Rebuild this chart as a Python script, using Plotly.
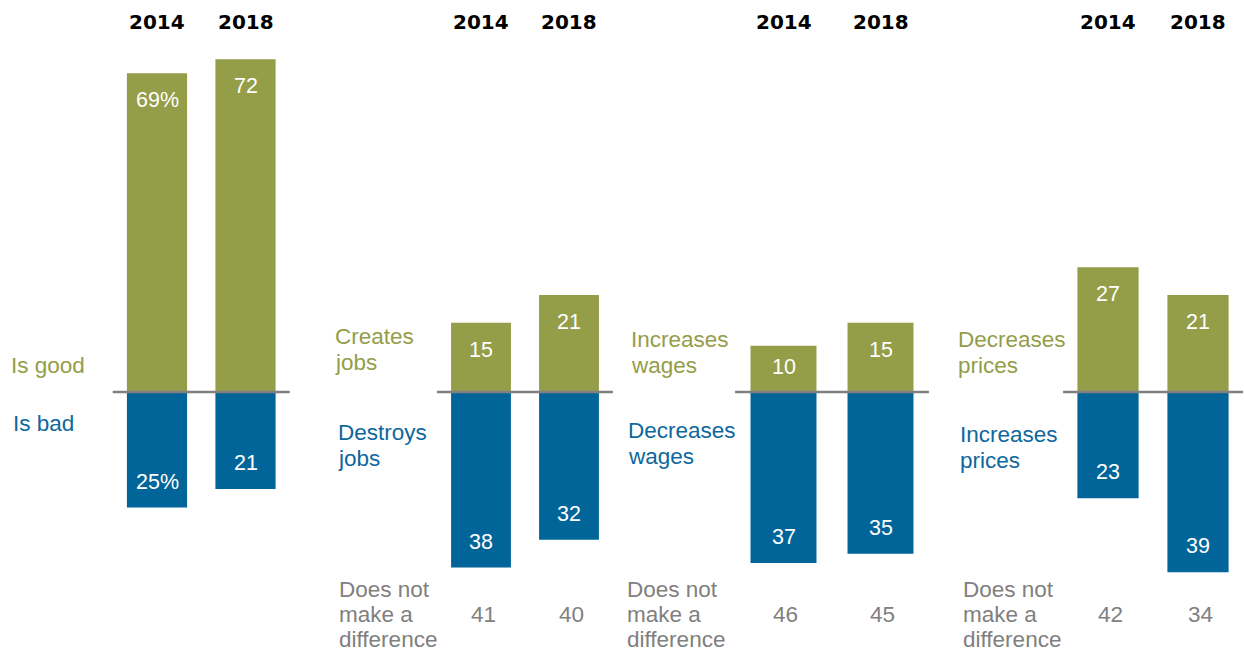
import plotly.graph_objects as go

# ---------------- data ----------------
years = ["2014", "2018"]

overall_good = [69, 72]
overall_bad = [25, 21]

jobs_creates = [15, 21]
jobs_destroys = [38, 32]
jobs_no_diff = [41, 40]

wages_increases = [10, 15]
wages_decreases = [37, 35]
wages_no_diff = [46, 45]

prices_decreases = [27, 21]
prices_increases = [23, 39]
prices_no_diff = [42, 34]

good_labels = [["Is good"], ["Creates", "jobs"], ["Increases", "wages"], ["Decreases", "prices"]]
bad_labels = [["Is bad"], ["Destroys", "jobs"], ["Decreases", "wages"], ["Increases", "prices"]]
no_diff_label = ["Does not", "make a", "difference"]

panels = [
    dict(good=overall_good, bad=overall_bad, nodiff=None),
    dict(good=jobs_creates, bad=jobs_destroys, nodiff=jobs_no_diff),
    dict(good=wages_increases, bad=wages_decreases, nodiff=wages_no_diff),
    dict(good=prices_decreases, bad=prices_increases, nodiff=prices_no_diff),
]

# ---------------- style / layout ----------------
W, H = 1244, 653
BASE = 392.0          # pixel row of the zero line
PX = 4.62             # pixels per percentage point
GREEN = "#949D48"
BLUE = "#02659A"
GREEN_TXT = "#949D48"
BLUE_TXT = "#0E679D"
GRAY = "#808080"
FONT = "Liberation Sans, Arial, sans-serif"
HFONT = "DejaVu Sans, Arial, sans-serif"
FS = 21.5
LFS = 22.5
LINE = 26.5
ND_LINE = 25.0

domains_px = [(112.75, 289.75), (437, 613), (735, 929), (1063, 1243)]
# (left x, centre y of first line)
good_lab_pos = [(10, 365), (334, 336), (630, 339), (957, 339)]
bad_lab_pos = [(12, 423), (337, 432), (627, 430), (959, 434)]
nodiff_lab_pos = [None, (338, 589), (626, 589), (962, 589)]


def px(x):
    return x / W


def py(y):
    return 1 - y / H


fig = go.Figure()
annotations = []
shapes = []
layout_axes = {}


def add_lines(lines, x0, y0, color, step=LINE):
    for k, t in enumerate(lines):
        annotations.append(dict(x=px(x0), xref="paper", y=py(y0 + k * step), yref="paper", text=t,
                                showarrow=False, xanchor="left", yanchor="middle", align="left",
                                borderpad=0,
                                font=dict(family=FONT, size=LFS, color=color)))


for i, p in enumerate(panels):
    n = "" if i == 0 else str(i + 1)
    xa = "x" + n
    d0, d1 = domains_px[i]
    layout_axes["xaxis" + n] = dict(
        domain=[px(d0), px(d1)], type="category", categoryorder="array",
        categoryarray=years, range=[-0.5, 1.5], visible=False, fixedrange=True,
        anchor="y",
    )
    fig.add_trace(go.Bar(x=years, y=p["good"], marker=dict(color=GREEN, line=dict(width=0)),
                         xaxis=xa, yaxis="y", showlegend=False, hoverinfo="skip"))
    fig.add_trace(go.Bar(x=years, y=[-v for v in p["bad"]], marker=dict(color=BLUE, line=dict(width=0)),
                         xaxis=xa, yaxis="y", showlegend=False, hoverinfo="skip"))

    # zero line
    shapes.append(dict(type="line", xref=xa + " domain", yref="y", x0=0, x1=1, y0=0, y1=0,
                       line=dict(color=GRAY, width=2.5), layer="above"))

    for j, yr in enumerate(years):
        cx = years.index(yr)  # category index on this panel's axis
        suffix = "%" if (i == 0 and j == 0) else ""
        g = p["good"][j]
        b = p["bad"][j]
        # year header
        annotations.append(dict(x=cx, xref=xa, y=py(22), yref="paper", text="<b>%s</b>" % yr,
                                showarrow=False, xanchor="center", yanchor="middle",
                                font=dict(family=HFONT, size=20, color="#000000")))
        # green value
        annotations.append(dict(x=cx, xref=xa, y=g, yref="y", text="%d%s" % (g, suffix),
                                showarrow=False, xanchor="center", yanchor="middle",
                                yshift=-min(27, g * PX * 0.45),
                                font=dict(family=FONT, size=FS, color="white")))
        # blue value
        annotations.append(dict(x=cx, xref=xa, y=-b, yref="y", text="%d%s" % (b, suffix),
                                showarrow=False, xanchor="center", yanchor="middle", yshift=26,
                                font=dict(family=FONT, size=FS, color="white")))
        if p["nodiff"] is not None:
            annotations.append(dict(x=cx, xref=xa, y=py(nodiff_lab_pos[i][1] + ND_LINE), yref="paper",
                                    text="%d" % p["nodiff"][j], showarrow=False,
                                    xanchor="center", yanchor="middle", xshift=2,
                                    font=dict(family=FONT, size=LFS, color=GRAY)))

    add_lines(good_labels[i], *good_lab_pos[i], GREEN_TXT)
    add_lines(bad_labels[i], *bad_lab_pos[i], BLUE_TXT)
    if nodiff_lab_pos[i] is not None:
        add_lines(no_diff_label, *nodiff_lab_pos[i], GRAY, step=ND_LINE)

fig.update_layout(
    width=W, height=H, autosize=False,
    margin=dict(l=0, r=0, t=0, b=0, pad=0),
    paper_bgcolor="white", plot_bgcolor="rgba(0,0,0,0)",
    barmode="relative", bargap=0.32,
    yaxis=dict(range=[-(H - BASE) / PX, BASE / PX], visible=False, domain=[0, 1],
               fixedrange=True, anchor="x"),
    annotations=annotations, shapes=shapes,
    font=dict(family=FONT),
    **layout_axes,
)

fig.write_html("out.html", config={"displayModeBar": False},
               post_script="document.body.style.margin='0';document.body.style.overflow='hidden';")
